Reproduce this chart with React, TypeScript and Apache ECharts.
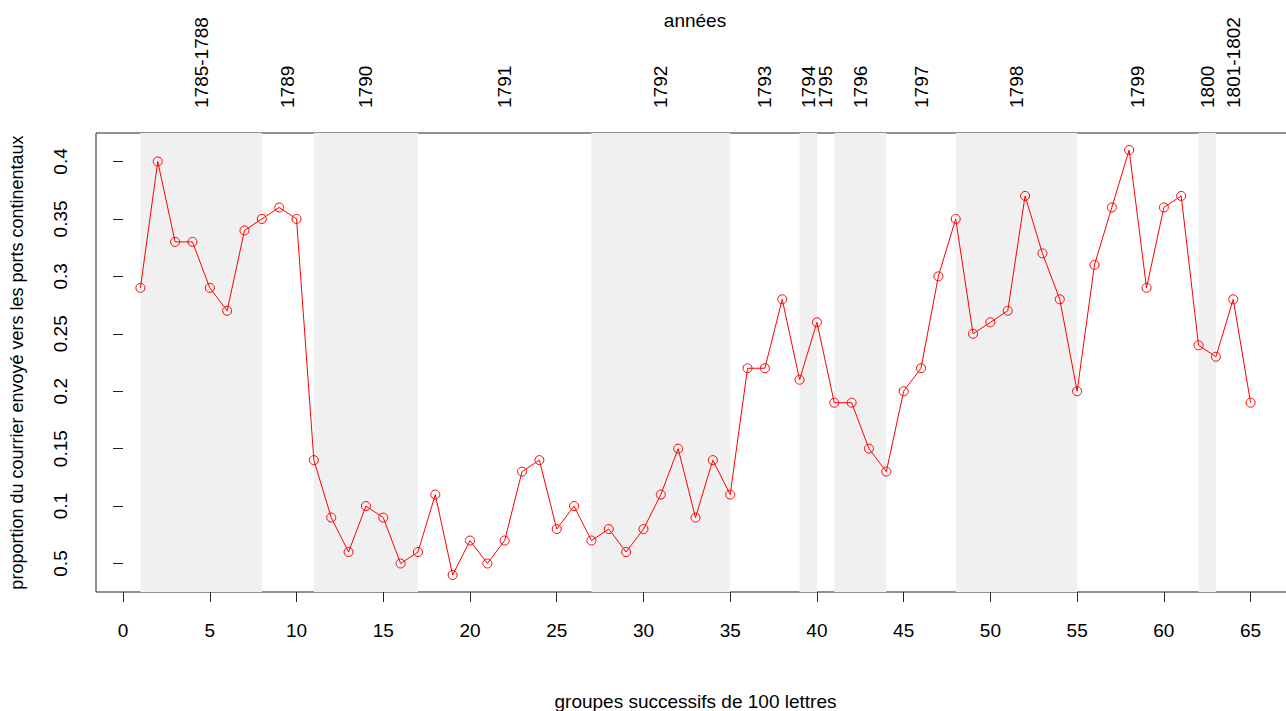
import React, { useEffect, useRef } from "react";
import * as echarts from "echarts";

const groups = [
  1, 2, 3, 4, 5, 6, 7, 8, 9, 10, 11, 12, 13, 14, 15, 16, 17, 18, 19, 20, 21, 22,
  23, 24, 25, 26, 27, 28, 29, 30, 31, 32, 33, 34, 35, 36, 37, 38, 39, 40, 41, 42,
  43, 44, 45, 46, 47, 48, 49, 50, 51, 52, 53, 54, 55, 56, 57, 58, 59, 60, 61, 62,
  63, 64, 65,
];

const proportions = [
  0.29, 0.4, 0.33, 0.33, 0.29, 0.27, 0.34, 0.35, 0.36, 0.35, 0.14, 0.09, 0.06,
  0.1, 0.09, 0.05, 0.06, 0.11, 0.04, 0.07, 0.05, 0.07, 0.13, 0.14, 0.08, 0.1,
  0.07, 0.08, 0.06, 0.08, 0.11, 0.15, 0.09, 0.14, 0.11, 0.22, 0.22, 0.28, 0.21,
  0.26, 0.19, 0.19, 0.15, 0.13, 0.2, 0.22, 0.3, 0.35, 0.25, 0.26, 0.27, 0.37,
  0.32, 0.28, 0.2, 0.31, 0.36, 0.41, 0.29, 0.36, 0.37, 0.24, 0.23, 0.28, 0.19,
];

// shaded year bands (start group, end group)
const bandStarts = [1, 11, 27, 39, 41, 48, 62];
const bandEnds = [8, 17, 35, 40, 44, 55, 63];

// year labels along the top and their positions (in group units)
const yearLabels = [
  "1785-1788", "1789", "1790", "1791", "1792", "1793", "1794", "1795", "1796",
  "1797", "1798", "1799", "1800", "1801-1802",
];
const yearPositions = [4.5, 9.5, 14, 22, 31, 37, 39.5, 40.5, 42.5, 46, 51.5, 58.5, 62.5, 64];

const xTickValues = [0, 5, 10, 15, 20, 25, 30, 35, 40, 45, 50, 55, 60, 65];
const yTickValues = [0.05, 0.1, 0.15, 0.2, 0.25, 0.3, 0.35, 0.4];
const yTickLabels = ["0.5", "0.1", "0.15", "0.2", "0.25", "0.3", "0.35", "0.4"];

const FONT = "'Liberation Sans', Arial, Helvetica, sans-serif";

function nearestIndex(arr: number[], v: number) {
  let best = 0;
  for (let i = 1; i < arr.length; i++) {
    if (Math.abs(arr[i] - v) < Math.abs(arr[best] - v)) best = i;
  }
  return best;
}

export default function App() {
  const ref = useRef<HTMLDivElement>(null);

  useEffect(() => {
    if (!ref.current) return;
    const chart = echarts.init(ref.current, null, { renderer: "svg" });

    const xMin = groups[0] - (groups[groups.length - 1] - groups[0]) * 0.04;
    const xMax = groups[groups.length - 1] + (groups[groups.length - 1] - groups[0]) * 0.04;
    const yLo = Math.min(...proportions);
    const yHi = Math.max(...proportions);
    const yMin = yLo - (yHi - yLo) * 0.04;
    const yMax = yHi + (yHi - yLo) * 0.04;

    const textStyle = { color: "#000", fontFamily: FONT, fontSize: 19 };

    chart.setOption({
      animation: false,
      backgroundColor: "#fff",
      textStyle: { fontFamily: FONT },
      title: {
        text: "années",
        left: 695,
        top: 11,
        textAlign: "center",
        padding: 0,
        textStyle: { ...textStyle, fontWeight: "normal" },
      },
      grid: {
        left: 96,
        top: 133,
        right: -9,
        bottom: 119,
        outerBoundsMode: "none",
        containLabel: false,
        show: true,
        borderColor: "#222",
        borderWidth: 1,
        backgroundColor: "transparent",
      },
      xAxis: [
        {
          type: "value",
          position: "bottom",
          min: xMin,
          max: xMax,
          name: "groupes successifs de 100 lettres",
          nameLocation: "middle",
          nameGap: 100,
          nameTextStyle: textStyle,
          axisLine: { show: false },
          splitLine: { show: false },
          axisTick: {
            show: true,
            customValues: xTickValues,
            length: 10,
            lineStyle: { color: "#222", width: 1 },
          },
          axisLabel: {
            show: true,
            customValues: xTickValues,
            margin: 29,
            ...textStyle,
            formatter: (v: number) => String(Math.round(v)),
          },
        },
        {
          type: "value",
          position: "top",
          min: xMin,
          max: xMax,
          axisLine: { show: false },
          splitLine: { show: false },
          axisTick: { show: false },
          axisLabel: {
            show: true,
            customValues: yearPositions,
            rotate: -90,
            margin: 25,
            ...textStyle,
            formatter: (v: number) => yearLabels[nearestIndex(yearPositions, v)],
          },
        },
      ],
      yAxis: {
        type: "value",
        min: yMin,
        max: yMax,
        name: "proportion du courrier envoyé vers les ports continentaux",
        nameLocation: "middle",
        nameGap: 70,
        nameTextStyle: { ...textStyle, fontSize: 18 },
        axisLine: { show: false },
        splitLine: { show: false },
        axisTick: {
          show: true,
          customValues: yTickValues,
          length: 10,
          lineStyle: { color: "#222", width: 1 },
        },
        axisLabel: {
          show: true,
          customValues: yTickValues,
          rotate: 90,
          margin: 26,
          ...textStyle,
          formatter: (v: number) => yTickLabels[nearestIndex(yTickValues, v)],
        },
      },
      series: [
        {
          type: "line",
          xAxisIndex: 0,
          data: groups.map((g, i) => [g, proportions[i]]),
          symbol: "circle",
          symbolSize: 9,
          showSymbol: true,
          lineStyle: { color: "#ff0000", width: 1 },
          itemStyle: { color: "rgba(0,0,0,0)", borderColor: "#ff0000", borderWidth: 1 },
          markArea: {
            silent: true,
            itemStyle: { color: "#f0f0f0" },
            data: bandStarts.map((s, i) => [
              { xAxis: s, yAxis: yMin },
              { xAxis: bandEnds[i], yAxis: yMax },
            ]),
          },
          z: 3,
        },
      ],
    });

    return () => chart.dispose();
  }, []);

  return (
    <div
      ref={ref}
      style={{ position: "fixed", left: 0, top: 0, width: 1286, height: 711 }}
    />
  );
}
